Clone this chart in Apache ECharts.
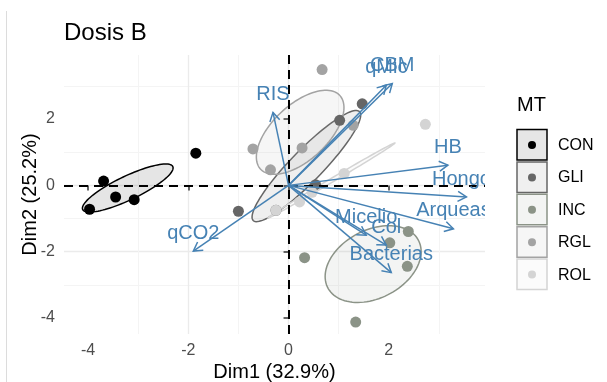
<!DOCTYPE html>
<html><head><meta charset="utf-8">
<script src="https://cdn.jsdelivr.net/npm/echarts@6/dist/echarts.min.js"></script>
<style>html,body{margin:0;padding:0;background:#fff}#c{width:607px;height:382px}</style>
</head><body><div id="c"></div>
<script>
// ---- data ----
const groups = ['CON', 'GLI', 'INC', 'RGL', 'ROL'];
const groupColors = ['#000000', '#666666', '#8B9387', '#A3A3A3', '#D4D4D4'];
const conPts = [[-3.97, -0.72], [-3.69, 0.13], [-3.45, -0.35], [-3.08, -0.43], [-1.85, 0.97]];
const gliPts = [[1.47, 2.46], [1.02, 1.96], [-1.00, -0.78], [0.54, 0.02], [-0.25, -0.75]];
const incPts = [[0.32, -2.18], [1.34, -4.12], [2.02, -1.73], [2.39, -1.39], [2.37, -2.44]];
const rglPts = [[-0.71, 1.10], [0.27, 1.13], [-0.36, 0.47], [0.67, 3.49], [1.29, 1.81]];
const rolPts = [[2.73, 1.84], [0.22, -0.50], [-0.25, -0.75], [1.11, 0.36], [0.47, -0.21]];
const varNames = ['qCO2', 'RIS', 'qMic', 'CBM', 'HB', 'Hongos', 'Arqueas', 'Micelio', 'Col', 'Bacterias'];
const varX = [-1.90, -0.31, 1.95, 2.07, 3.18, 3.55, 3.29, 1.55, 1.95, 2.05];
const varY = [-1.98, 2.20, 3.02, 3.07, 0.61, -0.35, -1.31, -1.50, -1.80, -2.63];
const xTicks = [-4, -2, 0, 2];
const yTicks = [-4, -2, 0, 2];
const allPts = [conPts, gliPts, incPts, rglPts, rolPts];

const FONT = '"Liberation Sans", Arial, sans-serif';
const ARROW = '#4682B4';

function confEllipse(pts) {
  const n = pts.length;
  let mx = 0, my = 0;
  pts.forEach(p => { mx += p[0]; my += p[1]; });
  mx /= n; my /= n;
  let sxx = 0, syy = 0, sxy = 0;
  pts.forEach(p => { sxx += (p[0] - mx) ** 2; syy += (p[1] - my) ** 2; sxy += (p[0] - mx) * (p[1] - my); });
  sxx /= (n - 1) * n; syy /= (n - 1) * n; sxy /= (n - 1) * n;
  const t = Math.sqrt(5.991464547);
  const sx = Math.sqrt(sxx), sy = Math.sqrt(syy);
  const d = Math.acos(Math.max(-1, Math.min(1, sxy / (sx * sy))));
  const out = [];
  for (let k = 0; k < 100; k++) {
    const a = 2 * Math.PI * k / 100;
    out.push([mx + t * sx * Math.cos(a + d / 2), my + t * sy * Math.cos(a - d / 2)]);
  }
  return out;
}
function fade(hex, a) {
  const v = [1, 3, 5].map(i => parseInt(hex.substr(i, 2), 16));
  return 'rgb(' + v.map(c => Math.round(c * a + 255 * (1 - a))).join(',') + ')';
}

const series = [];
// ellipses
series.push({
  type: 'custom', z: 1, silent: true,
  data: groups.map((g, i) => [i]),
  renderItem: function (params, api) {
    const i = api.value(0);
    const pts = confEllipse(allPts[i]).map(p => api.coord(p));
    return { type: 'polygon', shape: { points: pts },
      style: { fill: groupColors[i], fillOpacity: 0.1, stroke: groupColors[i], lineWidth: 1.5 } };
  }
});
// points
groups.forEach((g, i) => {
  series.push({ type: 'scatter', name: g, z: 3, symbolSize: 11, data: allPts[i],
    itemStyle: { color: groupColors[i], opacity: 1 } });
});
// zero lines
series.push({ type: 'scatter', data: [], z: 4,
  markLine: { silent: true, symbol: ['none', 'none'], label: { show: false },
    lineStyle: { color: '#000', width: 2, type: [9, 6], opacity: 1 },
    data: [{ xAxis: 0 }, { yAxis: 0 }] } });
// arrows
series.push({
  type: 'custom', z: 5, clip: true, silent: true,
  data: varX.map((x, i) => [x, varY[i], i]),
  renderItem: function (params, api) {
    const p0 = api.coord([0, 0]);
    const p1 = api.coord([api.value(0), api.value(1)]);
    const idx = api.value(2);
    const ang = Math.atan2(p1[1] - p0[1], p1[0] - p0[0]);
    const L = 10, a = Math.PI / 6;
    const w1 = [p1[0] - L * Math.cos(ang - a), p1[1] - L * Math.sin(ang - a)];
    const w2 = [p1[0] - L * Math.cos(ang + a), p1[1] - L * Math.sin(ang + a)];
    return { type: 'group', children: [
      { type: 'line', shape: { x1: p0[0], y1: p0[1], x2: p1[0], y2: p1[1] }, style: { stroke: ARROW, lineWidth: 1.5 } },
      { type: 'polyline', shape: { points: [w1, p1, w2] }, style: { stroke: ARROW, lineWidth: 1.5, fill: null } },
      { type: 'text', x: p1[0], y: p1[1] - 18, style: { text: varNames[idx], fill: ARROW, font: '20px ' + FONT,
        align: 'center', verticalAlign: 'middle', textAlign: 'center', textVerticalAlign: 'middle' } }
    ] };
  }
});

// legend graphic
const legendEls = [{ type: 'text', x: 517, y: 105, style: { text: 'MT', font: '20px ' + FONT, fill: '#000',
  verticalAlign: 'middle', textVerticalAlign: 'middle' } }];
groups.forEach((g, i) => {
  const y0 = 129.5 + 32.4 * i;
  legendEls.push({ type: 'rect', shape: { x: 517, y: y0, width: 30, height: 30.5 },
    style: { fill: fade(groupColors[i], 0.1), stroke: groupColors[i], lineWidth: 1.5 } });
  legendEls.push({ type: 'circle', shape: { cx: 532, cy: y0 + 15.5, r: 4 }, style: { fill: groupColors[i] } });
  legendEls.push({ type: 'text', x: 558, y: y0 + 16, style: { text: g, font: '16px ' + FONT, fill: '#000',
    verticalAlign: 'middle', textVerticalAlign: 'middle' } });
});
legendEls.push({ type: 'line', shape: { x1: 6.5, y1: 11, x2: 6.5, y2: 382 }, style: { stroke: '#dcdcdc', lineWidth: 1 } });

function axisCommon(ticks) {
  return {
    type: 'value', minInterval: 2, maxInterval: 2,
    axisLine: { show: false },
    axisTick: { show: true, length: 5, customValues: ticks, lineStyle: { color: '#333', width: 1.5 } },
    axisLabel: { customValues: ticks, color: '#4d4d4d', fontSize: 16, fontFamily: FONT, margin: 9 },
    splitLine: { show: true, showMinLine: false, showMaxLine: false, lineStyle: { color: '#ebebeb', width: 1.3 } },
    minorTick: { show: false, splitNumber: 2 },
    minorSplitLine: { show: true, lineStyle: { color: '#f4f4f4', width: 1 } },
    nameLocation: 'middle', nameMoveOverlap: false,
    nameTextStyle: { fontSize: 20, color: '#000', fontFamily: FONT }
  };
}

const chart = echarts.init(document.getElementById('c'), null, { renderer: 'canvas' });
chart.setOption({
  animation: false,
  backgroundColor: '#fff',
  title: { text: 'Dosis B', left: 64, top: 21, padding: 0,
    textStyle: { fontSize: 24, fontWeight: 'normal', color: '#000', fontFamily: FONT } },
  grid: { left: 64, right: 122, top: 55, bottom: 48, containLabel: false, outerBoundsMode: 'none' },
  xAxis: Object.assign(axisCommon(xTicks), { min: -4.48, max: 3.92, name: 'Dim1 (32.9%)', nameGap: 28 }),
  yAxis: Object.assign(axisCommon(yTicks), { min: -4.48, max: 3.93, name: 'Dim2 (25.2%)', nameGap: 24 }),
  series: series,
  graphic: legendEls
});
</script></body></html>
